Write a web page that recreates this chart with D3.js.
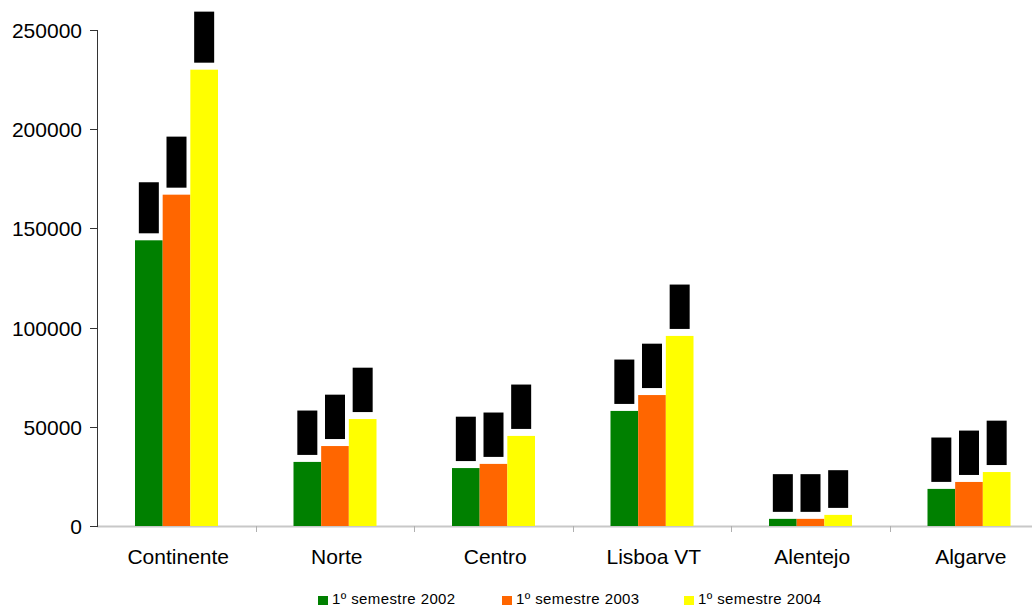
<!DOCTYPE html>
<html><head><meta charset="utf-8">
<script src="https://cdn.jsdelivr.net/npm/d3@7"></script>
<style>html,body{margin:0;padding:0;background:#fff;overflow:hidden}</style>
</head><body>
<svg id="c" width="1032" height="608"></svg>
<script>
const categories = ["Continente","Norte","Centro","Lisboa VT","Alentejo","Algarve"];
const seriesNames = ["1º semestre 2002","1º semestre 2003","1º semestre 2004"];
const s2002 = [144000, 32300, 29200, 58000, 3600, 18700];
const s2003 = [167000, 40300, 31300, 66000, 3600, 22200];
const s2004 = [230000, 53900, 45400, 95800, 5600, 27200];
const yTicks = [0, 50000, 100000, 150000, 200000, 250000];
const colors = ["#008000", "#FF6600", "#FFFF00"];

const series = [s2002, s2003, s2004];
const svg = d3.select("#c");
const font = "Liberation Sans, Arial, sans-serif";

const x0 = d3.scaleBand().domain(categories).range([97, 97 + 6 * 158.5]).paddingInner(0).paddingOuter(0);
const x1 = d3.scaleBand().domain(d3.range(3)).range([38, 38 + 83]).padding(0);
const y = d3.scaleLinear().domain([0, 250000]).range([526, 30]);

// x axis (gray line with ticks at category boundaries)
const xg = svg.append("g");
xg.append("line").attr("x1", 97).attr("x2", 1032).attr("y1", 526.5).attr("y2", 526.5)
  .attr("stroke", "#c8c8c8").attr("stroke-width", 2);
categories.forEach((c, i) => {
  const bx = Math.round(x0(c)) + 0.5;
  if (i > 0) xg.append("line").attr("x1", bx).attr("x2", bx).attr("y1", 526).attr("y2", 532)
    .attr("stroke", "#b0b0b0").attr("stroke-width", 1);
  xg.append("text").attr("x", x0(c) + x0.bandwidth() / 2 + 2).attr("y", 564)
    .attr("text-anchor", "middle").attr("font-family", font).attr("font-size", 21)
    .attr("fill", "#000").text(c);
});

// bars
const groups = svg.append("g").selectAll("g").data(categories).join("g")
  .attr("transform", d => `translate(${x0(d)},0)`);
groups.each(function(c, ci) {
  const g = d3.select(this);
  series.forEach((s, si) => {
    const v = s[ci];
    const bx = x1(si), bw = x1.bandwidth();
    g.append("rect").attr("x", bx).attr("y", y(v)).attr("width", bw).attr("height", y(0) - y(v))
      .attr("fill", colors[si]);
    // data label (rendered as black box)
    const cx = bx + bw / 2;
    const lg = g.append("g");
    const t = lg.append("text").attr("font-family", font).attr("font-size", 12)
      .attr("fill", "#000").attr("text-anchor", "middle")
      .attr("transform", `translate(${cx + 4},${y(v) - 7 - 26}) rotate(-90)`)
      .text(String(Math.round(v)));
    const len = t.node().getComputedTextLength() + 11;
    lg.insert("rect", "text").attr("x", cx - 10).attr("y", y(v) - 7 - len)
      .attr("width", 20).attr("height", len).attr("fill", "#000");
    t.attr("transform", `translate(${cx + 4},${y(v) - 7 - len / 2}) rotate(-90)`);
  });
});

// y axis
const yg = svg.append("g");
yg.append("line").attr("x1", 97.5).attr("x2", 97.5).attr("y1", y(250000)).attr("y2", 527)
  .attr("stroke", "#333").attr("stroke-width", 1);
yTicks.forEach(v => {
  const ty = Math.round(y(v)) + 0.5;
  yg.append("line").attr("x1", 90).attr("x2", 97.5).attr("y1", ty).attr("y2", ty)
    .attr("stroke", "#333").attr("stroke-width", 1);
  yg.append("text").attr("x", 82).attr("y", ty + 7).attr("text-anchor", "end")
    .attr("font-family", font).attr("font-size", 21).attr("fill", "#000").text(v);
});

// legend
const legX = [318, 502, 684];
seriesNames.forEach((n, i) => {
  svg.append("rect").attr("x", legX[i]).attr("y", 596).attr("width", 10).attr("height", 9).attr("fill", colors[i]);
  svg.append("text").attr("x", legX[i] + 14).attr("y", 604).attr("font-family", font)
    .attr("font-size", 15).attr("letter-spacing", 0.4).attr("fill", "#000").text(n);
});
</script>
</body></html>
